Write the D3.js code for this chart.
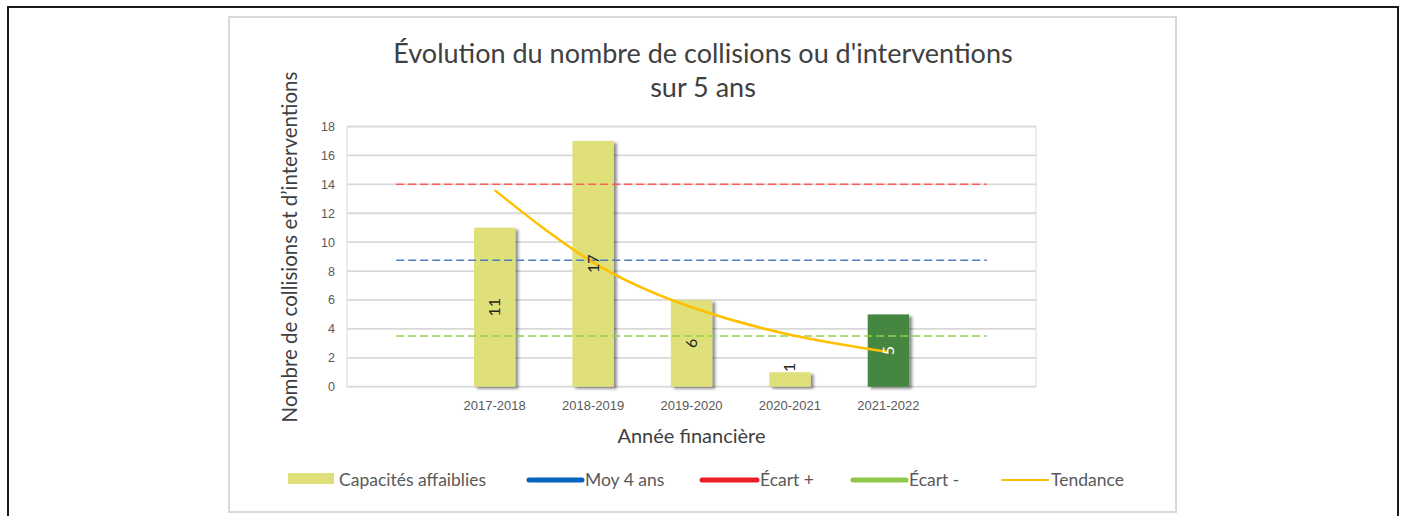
<!DOCTYPE html>
<html>
<head>
<meta charset="utf-8">
<script src="https://cdn.jsdelivr.net/npm/d3@7"></script>
<style>
  body { margin: 0; background: #fff; }
  svg { display: block; font-family: Lato, "Open Sans", sans-serif; }
</style>
</head>
<body>
<svg id="chart" width="1406" height="516"></svg>
<script>
// data
const years = ["2017-2018", "2018-2019", "2019-2020", "2020-2021", "2021-2022"];
const collisions = [11, 17, 6, 1, 5];
const trend = [13.6, 8.6, 5.5, 3.6, 2.4];
const currentYear = "2021-2022";
const moy4ans = 8.75;
const ecartPlus = 14;
const ecartMinus = 3.5;
const yTicks = [0, 2, 4, 6, 8, 10, 12, 14, 16, 18];

const svg = d3.select("#chart");

// outer black frame + chart frame
svg.append("rect")
    .attr("x", 8).attr("y", 7).attr("width", 1390).attr("height", 520)
    .attr("fill", "none").attr("stroke", "#1a1a1a").attr("stroke-width", 2);
svg.append("rect")
    .attr("x", 229).attr("y", 17).attr("width", 947).attr("height", 495)
    .attr("fill", "#fff").attr("stroke", "#d9d9d9").attr("stroke-width", 2);

const defs = svg.append("defs");
defs.append("filter").attr("id", "shadow")
    .attr("x", "-20%").attr("y", "-10%").attr("width", "150%").attr("height", "130%")
    .append("feDropShadow")
    .attr("dx", 3).attr("dy", 2).attr("stdDeviation", 1.6)
    .attr("flood-color", "#000").attr("flood-opacity", 0.45);

const plot = { left: 347, right: 1036, top: 126.5, bottom: 386.7 };

// 7 slots: empty one each side of the five years
const slots = ["", ...years, " "];
const x = d3.scaleBand().domain(slots).range([plot.left, plot.right]).padding(0);
const cx = d => x(d) + x.bandwidth() / 2;
const y = d3.scaleLinear().domain([0, 18]).range([plot.bottom, plot.top]);

// gridlines
svg.append("g").selectAll("line").data(yTicks).join("line")
    .attr("x1", plot.left).attr("x2", plot.right)
    .attr("y1", d => y(d)).attr("y2", d => y(d))
    .attr("stroke", "#d9d9d9").attr("stroke-width", 1.8);
svg.append("rect")
    .attr("x", plot.left).attr("y", plot.top)
    .attr("width", plot.right - plot.left).attr("height", plot.bottom - plot.top)
    .attr("fill", "none").attr("stroke", "#d9d9d9").attr("stroke-width", 1);

// y axis
const yAxis = svg.append("g")
    .attr("transform", `translate(${plot.left - 4},0)`)
    .call(d3.axisLeft(y).tickValues(yTicks).tickSize(0).tickPadding(8));
yAxis.select(".domain").remove();
yAxis.selectAll("text").attr("fill", "#595959").style("font-size", "12.5px");

// x axis
const xAxis = svg.append("g")
    .attr("transform", `translate(0,${plot.bottom + 2})`)
    .call(d3.axisBottom(x).tickValues(years).tickSize(0).tickPadding(12));
xAxis.select(".domain").remove();
xAxis.selectAll("text").attr("fill", "#595959").style("font-size", "13px");

// bars
const barW = x.bandwidth() * 0.42;
const bars = years.map((d, i) => ({ year: d, value: collisions[i] }));
svg.append("g").selectAll("rect").data(bars).join("rect")
    .attr("x", d => cx(d.year) - barW / 2)
    .attr("y", d => y(d.value))
    .attr("width", barW)
    .attr("height", d => y(0) - y(d.value))
    .attr("fill", d => d.year === currentYear ? "#448740" : "#e0e07a")
    .attr("filter", "url(#shadow)");

// reference lines
const refLines = [
    { v: ecartPlus, color: "#ff5a5a" },
    { v: moy4ans, color: "#4a7fc0" },
    { v: ecartMinus, color: "#92d050" }
];
svg.append("g").selectAll("line").data(refLines).join("line")
    .attr("x1", cx(slots[0])).attr("x2", cx(slots[slots.length - 1]))
    .attr("y1", d => y(d.v)).attr("y2", d => y(d.v))
    .attr("stroke", d => d.color).attr("stroke-width", 1.5)
    .attr("stroke-dasharray", "8,4");

// trend line
const line = d3.line()
    .x((d, i) => cx(years[i]))
    .y(d => y(d))
    .curve(d3.curveNatural);
svg.append("path").datum(trend)
    .attr("d", line)
    .attr("fill", "none").attr("stroke", "#ffc000").attr("stroke-width", 2.5);

// bar labels
svg.append("g").selectAll("text").data(bars).join("text")
    .attr("transform", d => `translate(${cx(d.year) + 5.5},${d.value < 2 ? y(d.value) - 5 : (y(d.value) + y(0)) / 2}) rotate(-90)`)
    .attr("text-anchor", "middle")
    .attr("fill", d => d.year === currentYear ? "#fff" : "#262626")
    .style("font-size", "16px")
    .text(d => d.value);

// titles
svg.append("text")
    .attr("x", 703).attr("y", 63)
    .attr("text-anchor", "middle").attr("fill", "#404040")
    .style("font-size", "27px")
    .text("Évolution du nombre de collisions ou d'interventions");
svg.append("text")
    .attr("x", 703).attr("y", 97)
    .attr("text-anchor", "middle").attr("fill", "#404040")
    .style("font-size", "27px")
    .text("sur 5 ans");

svg.append("text")
    .attr("x", (plot.left + plot.right) / 2).attr("y", 443)
    .attr("text-anchor", "middle").attr("fill", "#404040")
    .style("font-size", "20px")
    .text("Année financière");

svg.append("text")
    .attr("transform", "translate(297,247) rotate(-90)")
    .attr("text-anchor", "middle").attr("fill", "#404040")
    .style("font-size", "20.5px")
    .text("Nombre de collisions et d’interventions");

// legend
const legendItems = [
    { label: "Capacités affaiblies", type: "rect", color: "#e0e07a", x0: 288, x1: 334 },
    { label: "Moy 4 ans", type: "line", color: "#0563c1", x0: 529, x1: 582, w: 5 },
    { label: "Écart +", type: "line", color: "#ee1c25", x0: 702, x1: 757, w: 5 },
    { label: "Écart -", type: "line", color: "#8fc74a", x0: 853, x1: 906, w: 5 },
    { label: "Tendance", type: "line", color: "#ffc000", x0: 1002, x1: 1048, w: 2 }
];
const ly = 480;
const lg = svg.append("g").selectAll("g").data(legendItems).join("g");
lg.filter(d => d.type === "rect").append("rect")
    .attr("x", d => d.x0).attr("y", ly - 7)
    .attr("width", d => d.x1 - d.x0).attr("height", 11)
    .attr("fill", d => d.color);
lg.filter(d => d.type === "line").append("line")
    .attr("x1", d => d.x0).attr("x2", d => d.x1)
    .attr("y1", ly).attr("y2", ly)
    .attr("stroke", d => d.color).attr("stroke-width", d => d.w)
    .attr("stroke-linecap", "round");
lg.append("text")
    .attr("x", d => d.x1 + (d.type === "rect" ? 5 : 3))
    .attr("y", ly + 6)
    .attr("fill", "#595959")
    .style("font-size", "17.5px")
    .text(d => d.label);
</script>
</body>
</html>
